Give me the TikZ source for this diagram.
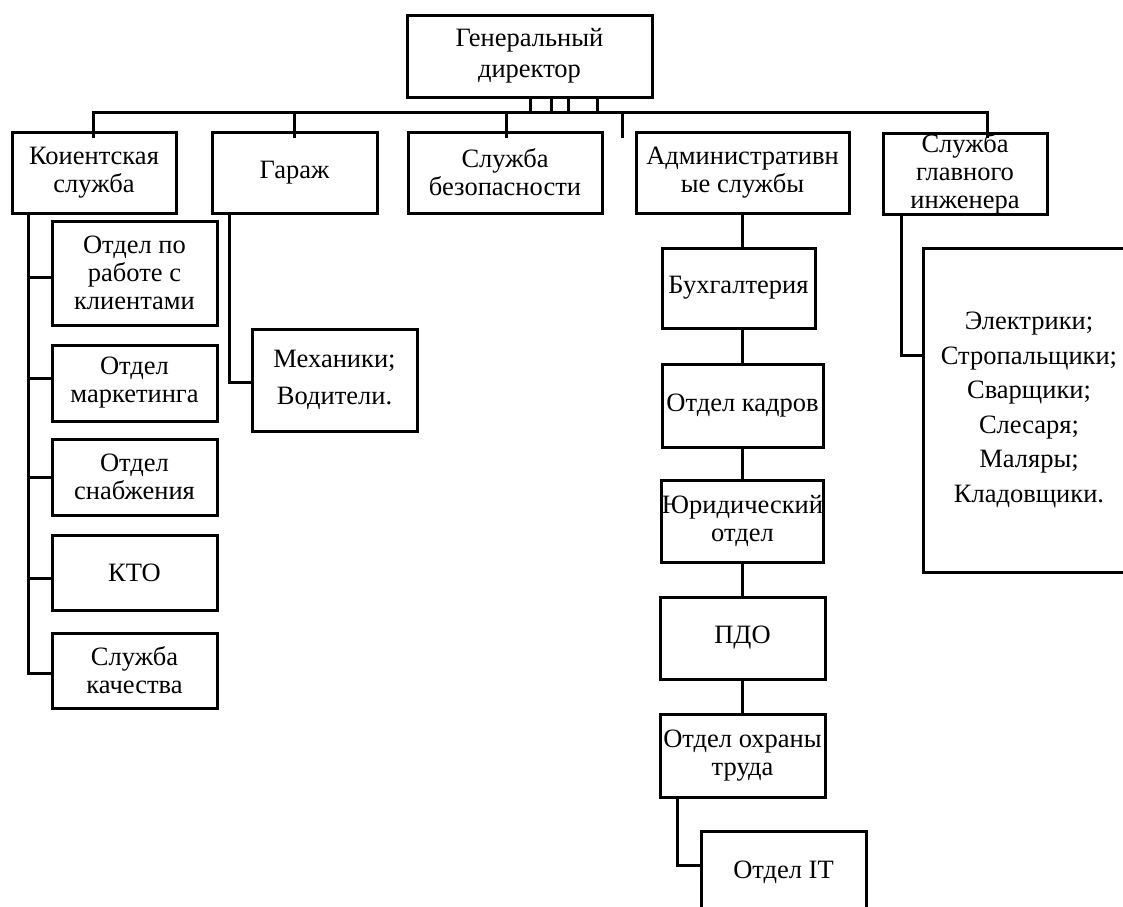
\documentclass[tikz,border=0pt]{standalone}
\usepackage{fontspec}
\setmainfont{Liberation Serif}
\begin{document}
\begin{tikzpicture}[x=1pt,y=-1pt,
  box/.style={draw, line width=3pt, rectangle, inner sep=0pt, outer sep=0pt, align=center,
    font=\fontsize{26.5}{28}\selectfont},
  conn/.style={line width=3pt, line cap=rect}]
\useasboundingbox[fill=white] (0,0) rectangle (1123,906);

% top level
\node[box, minimum width=245pt, minimum height=82pt, font=\fontsize{26.5}{31}\selectfont] (dir) at (529.5,56) {Генеральный\\директор};
\node[box, minimum width=164pt, minimum height=81pt] (client) at (94,172.5) {Коиентская\\служба};
\node[box, minimum width=165pt, minimum height=81pt] (garage) at (294.5,172.5) {Гараж};
\node[box, minimum width=194pt, minimum height=81pt] (sec) at (505,172.5) {Служба\\безопасности};
\node[box, minimum width=213pt, minimum height=81pt] (adm) at (742.5,172.5) {Административн\\ые службы};
\node[box, minimum width=164pt, minimum height=81pt] (eng) at (965,174) {Служба\\главного\\инженера};

% client children
\node[box, minimum width=165pt, minimum height=104pt] (c1) at (134.5,273) {Отдел по\\работе с\\клиентами};
\node[box, minimum width=165pt, minimum height=76pt] (c2) at (134.5,383) {Отдел\\маркетинга};
\node[box, minimum width=165pt, minimum height=76pt] (c3) at (134.5,477) {Отдел\\снабжения};
\node[box, minimum width=165pt, minimum height=75pt] (c4) at (134.5,572.5) {КТО};
\node[box, minimum width=165pt, minimum height=75pt] (c5) at (134.5,670.5) {Служба\\качества};

% garage child
\node[box, minimum width=165pt, minimum height=102pt, font=\fontsize{26.5}{37}\selectfont] (mech) at (334.5,380) {Механики;\\Водители.};

% admin chain
\node[box, minimum width=153pt, minimum height=80pt] (a1) at (738.5,288) {Бухгалтерия};
\node[box, minimum width=161pt, minimum height=83pt] (a2) at (742.5,405.5) {Отдел кадров};
\node[box, minimum width=161pt, minimum height=82pt] (a3) at (742.5,521) {Юридический\\отдел};
\node[box, minimum width=165pt, minimum height=82pt] (a4) at (742.5,638) {ПДО};
\node[box, minimum width=165pt, minimum height=83pt] (a5) at (742.5,755.5) {Отдел охраны\\труда};
\node[box, minimum width=165pt, minimum height=82pt] (it) at (783.5,872) {Отдел IT};

% engineer child
\node[box, minimum width=212pt, minimum height=324pt, font=\fontsize{26.5}{34.5}\selectfont] (ew) at (1029,410) {Электрики;\\Стропальщики;\\Сварщики;\\Слесаря;\\Маляры;\\Кладовщики.};

% bus
\coordinate (busL) at (93,112);
\coordinate (busR) at (987,112);
\draw[conn] (busL) -- (busR);
\foreach \x in {530,551,568,597} \draw[conn] (\x,0 |- dir.south) -- (\x,0 |- busL);
\draw[conn] (busL) -- ([yshift=-4pt]client.north -| busL);
\draw[conn] (garage.north |- busL) -- ([yshift=-4pt]garage.north);
\draw[conn] (506,0 |- busL) -- ([yshift=-4pt]sec.north -| 506,0);
\draw[conn] (622,0 |- busL) -- ([yshift=-4pt]sec.north -| 622,0);
\draw[conn] (busR) -- ([yshift=-4pt]adm.north -| busR);

% client tree
\coordinate (cl) at (28,673);
\draw[conn] (client.south -| cl) -- (cl) -- (c5.west |- cl);
\draw[conn] (28,277) -- (c1.west |- 0,277);
\draw[conn] (28,378) -- (c2.west |- 0,378);
\draw[conn] (28,477) -- (c3.west |- 0,477);
\draw[conn] (28,578) -- (c4.west |- 0,578);

% garage tree
\draw[conn] (garage.south -| 229,0) -- (229,382) -- (mech.west |- 0,382);

% admin chain
\draw[conn] (adm.south) -- (adm.south |- a1.north);
\draw[conn] (adm.south |- a1.south) -- (adm.south |- a2.north);
\draw[conn] (a2.south) -- (a3.north);
\draw[conn] (a3.south) -- (a4.north);
\draw[conn] (a4.south) -- (a5.north);
\draw[conn] (a5.south -| 677,0) -- (677,865) -- (it.west |- 0,865);

% engineer tree
\draw[conn] (eng.south -| 901,0) -- (901,355) -- (ew.west |- 0,355);
\end{tikzpicture}
\end{document}
